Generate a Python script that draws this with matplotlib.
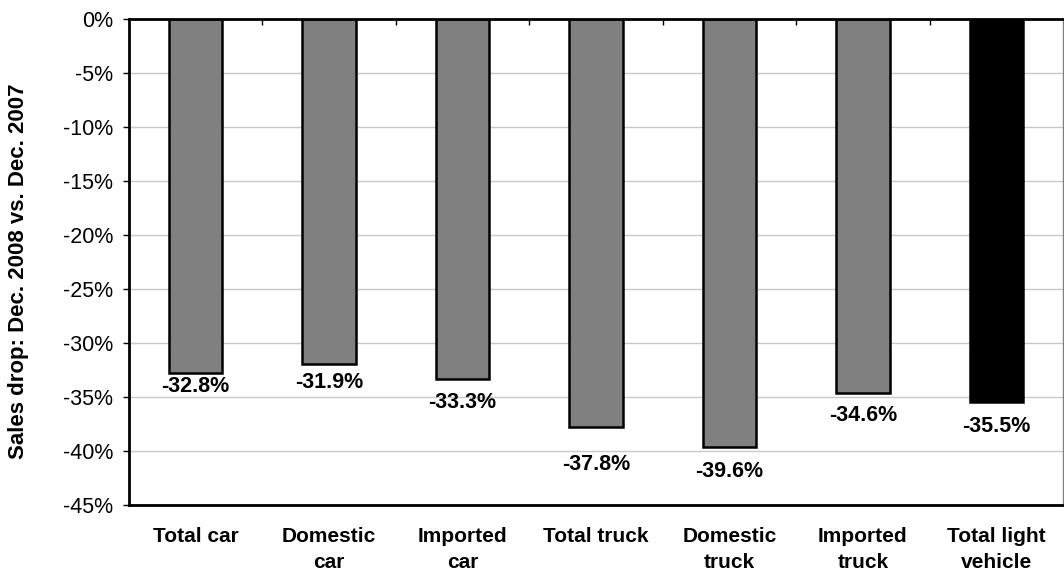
import matplotlib
matplotlib.use("Agg")
import matplotlib.pyplot as plt
from matplotlib.ticker import FuncFormatter, MultipleLocator, FixedLocator
import numpy as np

plt.rcParams['font.family'] = ['Liberation Sans', 'DejaVu Sans']

categories = ["Total car", "Domestic\ncar", "Imported\ncar", "Total truck",
              "Domestic\ntruck", "Imported\ntruck", "Total light\nvehicle"]
values = [-32.8, -31.9, -33.3, -37.8, -39.6, -34.6, -35.5]
bar_colors = ["#808080"] * 6 + ["#000000"]
label_offsets_px = [13, 19, 24, 37, 25, 23, 24]

W, H = 1064, 577
fig = plt.figure(figsize=(W / 100, H / 100), dpi=100)
ax = fig.add_axes([129 / W, 1 - 505 / H, (1063 - 129) / W, (505 - 19) / H])

x = np.arange(len(categories))
ax.bar(x, values, width=0.4, color=bar_colors, edgecolor="black", linewidth=1.8, zorder=3)

ax.set_xlim(-0.5, len(categories) - 0.5)
ax.set_ylim(-45, 0)
ax.yaxis.set_major_locator(MultipleLocator(5))
ax.yaxis.set_major_formatter(FuncFormatter(lambda v, p: f"{v:.0f}%"))
ax.grid(axis="y", color="#c8c8c8", linewidth=1, zorder=0)

ax.set_xticks(x)
ax.set_xticklabels(categories, fontsize=15, fontweight="bold", linespacing=1.42)
ax.tick_params(axis="x", which="major", length=0, pad=16)
ax.xaxis.set_minor_locator(FixedLocator(np.arange(0.5, len(categories) - 1, 1.0)))
ax.tick_params(axis="x", which="minor", bottom=False, top=True, direction="in",
               length=4.5, width=1, color="black")
ax.tick_params(axis="y", labelsize=15.5, length=4.5, width=1, direction="out", pad=7)

for side in ["left", "top", "bottom"]:
    ax.spines[side].set_linewidth(2)
    ax.spines[side].set_color("black")
ax.spines["right"].set_linewidth(1)
ax.spines["right"].set_color("#808080")
for s in ax.spines.values():
    s.set_zorder(4)

for xi, v, off in zip(x, values, label_offsets_px):
    ax.annotate(f"{v:.1f}%", xy=(xi, v), xytext=(0, -off * 0.72), textcoords="offset points",
                ha="center", va="center", fontsize=15.5, fontweight="bold", zorder=5)

fig.text(19 / W, 1 - 271 / H, "Sales drop: Dec. 2008 vs. Dec. 2007", rotation=90,
         ha="center", va="center", fontsize=16, fontweight="bold")

fig.savefig("out.png", dpi=100)
